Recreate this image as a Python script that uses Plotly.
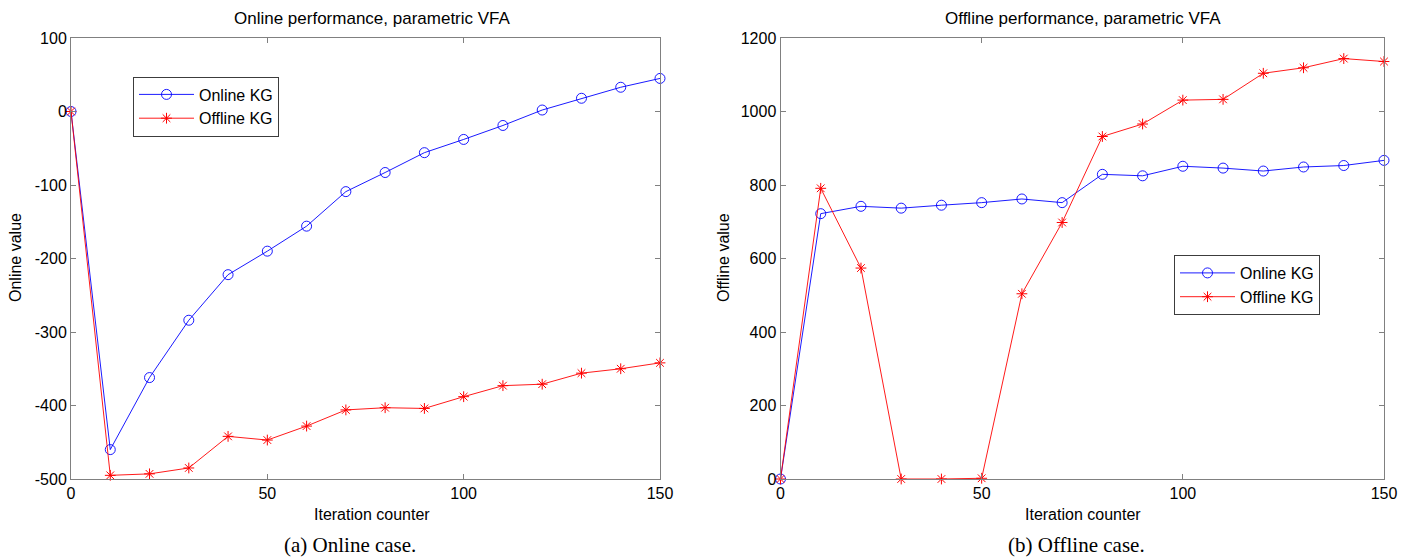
import plotly.graph_objects as go

iterations = [0, 10, 20, 30, 40, 50, 60, 70, 80, 90, 100, 110, 120, 130, 140, 150]

# Left panel: online performance
online_perf_onlineKG = [0, -460, -362, -284, -222, -190, -156, -109, -83, -56, -38, -19, 2, 18, 33, 45]
online_perf_offlineKG = [0, -495, -493, -485, -442, -447, -428, -406, -403, -404, -388, -373, -371, -356, -350, -342]

# Right panel: offline performance
offline_perf_onlineKG = [0, 722, 742, 737, 745, 752, 762, 752, 829, 825, 851, 846, 838, 849, 853, 867]
offline_perf_offlineKG = [0, 791, 574, 0, 0, 2, 504, 698, 932, 966, 1031, 1033, 1104, 1119, 1144, 1136]

left_yticks = [-500, -400, -300, -200, -100, 0, 100]
left_ytick_labels = ["-500", "-400", "-300", "-200", "-100", "0", "100"]
right_yticks = [0, 200, 400, 600, 800, 1000, 1200]
right_ytick_labels = ["0", "200", "400", "600", "800", "1000", "1200"]
xticks = [0, 50, 100, 150]
xtick_labels = ["0", "50", "100", "150"]

BLUE = "rgb(0,0,255)"
RED = "rgb(255,0,0)"
AXC = "rgb(128,128,128)"
FONT = "Liberation Sans, Arial, sans-serif"

OFF = 8  # page body margin
W, H = 1411 - OFF, 559 - OFF
def px(x):
    return (x - OFF) / W
def py(y):
    return 1 - (y - OFF) / H

fig = go.Figure()

def add_pair(xa, ya, on, off, legend):
    fig.add_trace(go.Scatter(
        x=iterations, y=on, xaxis=xa, yaxis=ya, name="Online KG", legend=legend,
        mode="lines+markers", cliponaxis=False,
        line=dict(color=BLUE, width=0.9),
        marker=dict(symbol="circle-open", size=10, color=BLUE, line=dict(width=0.9, color=BLUE)),
    ))
    fig.add_trace(go.Scatter(
        x=iterations, y=off, xaxis=xa, yaxis=ya, name="Offline KG", legend=legend,
        mode="lines+markers", cliponaxis=False,
        line=dict(color=RED, width=0.9),
        marker=dict(symbol="asterisk-open", size=9, color=RED, line=dict(width=1, color=RED)),
    ))

add_pair("x", "y", online_perf_onlineKG, online_perf_offlineKG, "legend")
add_pair("x2", "y2", offline_perf_onlineKG, offline_perf_offlineKG, "legend2")

axis_common = dict(
    showline=True, linecolor=AXC, linewidth=1, mirror="ticks",
    ticks="inside", ticklen=5, tickcolor=AXC, tickwidth=1,
    showgrid=False, zeroline=False, automargin=False,
    tickfont=dict(family=FONT, size=16, color="black"),
)

legend_common = dict(xanchor="left", yanchor="top",
                     bordercolor="rgb(60,60,60)", borderwidth=1, bgcolor="white",
                     font=dict(family=FONT, size=16), tracegroupgap=0, itemwidth=55)

fig.update_layout(
    width=W, height=H,
    margin=dict(l=0, r=0, t=0, b=0, autoexpand=False),
    paper_bgcolor="white", plot_bgcolor="white",
    font=dict(family=FONT, size=16, color="black"),
    xaxis=dict(domain=[px(71), px(660)], range=[0, 150], tickvals=xticks, ticktext=xtick_labels, anchor="y", **axis_common),
    yaxis=dict(domain=[py(479), py(38)], range=[-500, 100], tickvals=left_yticks, ticktext=left_ytick_labels, anchor="x", **axis_common),
    xaxis2=dict(domain=[px(780.5), px(1384)], range=[0, 150], tickvals=xticks, ticktext=xtick_labels, anchor="y2", **axis_common),
    yaxis2=dict(domain=[py(479), py(38)], range=[0, 1200], tickvals=right_yticks, ticktext=right_ytick_labels, anchor="x2", **axis_common),
    legend=dict(x=px(133), y=py(76.5), **legend_common),
    legend2=dict(x=px(1174), y=py(255), **legend_common),
    showlegend=True,
)

annotations = [
    dict(text="Online performance, parametric VFA", x=px(372), y=py(19), size=17),
    dict(text="Offline performance, parametric VFA", x=px(1083), y=py(19), size=17),
    dict(text="Iteration counter", x=px(372), y=py(514), size=16),
    dict(text="Iteration counter", x=px(1083), y=py(514), size=16),
    dict(text="Online value", x=px(16), y=py(258), textangle=-90, size=16),
    dict(text="Offline value", x=px(724), y=py(258), textangle=-90, size=16),
]
for a in annotations:
    size = a.pop("size")
    fig.add_annotation(xref="paper", yref="paper", showarrow=False,
                       xanchor="center", yanchor="middle",
                       font=dict(family=FONT, size=size, color="black"), **a)

for txt, xc in [("(a) Online case.", 350), ("(b) Offline case.", 1076)]:
    fig.add_annotation(xref="paper", yref="paper", showarrow=False,
                       x=px(xc), y=py(545), xanchor="center", yanchor="middle",
                       text=txt, font=dict(family="Liberation Serif, Times New Roman, serif", size=21, color="black"))

fig.write_html("out.html")
